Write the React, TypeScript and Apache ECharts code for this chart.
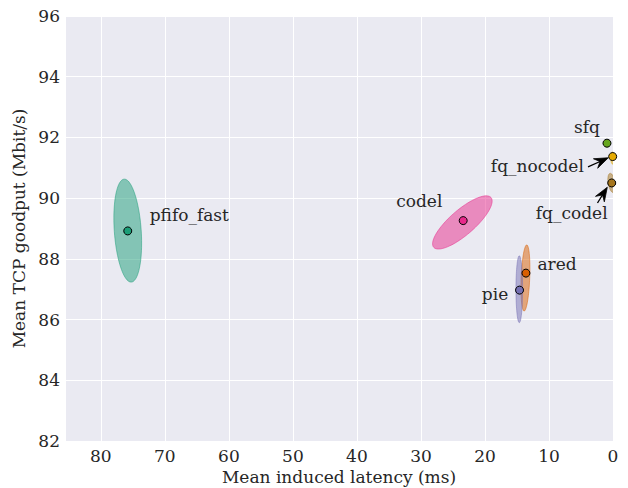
import React, { useEffect, useRef } from "react";
import * as echarts from "echarts";

// Per-qdisc summary (mean latency in ms, mean goodput in Mbit/s)
const names = ["pfifo_fast", "ared", "pie", "codel", "sfq", "fq_nocodel", "fq_codel"];
const colors = ["#1b9e77", "#d95f02", "#7570b3", "#e7298a", "#66a61e", "#e6ab02", "#a6761d"];
const latency = [75.8, 13.6, 14.6, 23.4, 0.94, 0.05, 0.2];
const goodput = [88.92, 87.53, 86.97, 89.26, 91.81, 91.37, 90.5];

// Spread ellipses: centre, semi-axes (ms, Mbit/s), rotation (deg)
const ellX = [75.8, 13.68, 14.64, 23.53, 0.94, 0.05, 0.2];
const ellY = [88.93, 87.37, 87.0, 89.2, 91.81, 91.32, 90.5];
const ellRx = [2.1, 0.67, 0.52, 5.93, 0.3, 0.3, 0.55];
const ellRy = [1.7, 1.09, 1.1, 0.41, 0.06, 0.2, 0.32];
const ellAngle = [4, -2.3, 0, 41, 0, 0, 10];

// Label anchors (left edge, baseline) in data units
const labelX = [72.37, 11.81, 20.49, 33.86, 6.09, 19.08, 12.06];
const labelY = [89.28, 87.66, 86.67, 89.74, 92.19, 90.9, 89.34];

// Annotation arrows: tail -> tip
const arrowNames = ["fq_nocodel", "fq_codel"];
const arrowTailX = [3.9, 2.42];
const arrowTailY = [91.03, 89.84];
const arrowTipX = [0.73, 0.89];
const arrowTipY = [91.33, 90.36];

const xTicks = [0, 10, 20, 30, 40, 50, 60, 70, 80];
const yTicks = [82, 84, 86, 88, 90, 92, 94, 96];

const FONT = "DejaVu Serif";
const FS = 17;
const TXT = "#262626";

export default function App() {
  const ref = useRef<HTMLDivElement>(null);
  useEffect(() => {
    if (!ref.current) return;
    const chart = echarts.init(ref.current, undefined, { renderer: "svg" });
    const option: any = {
      animation: false,
      grid: {
        left: 65,
        right: 15,
        top: 16,
        bottom: 47,
        show: true,
        backgroundColor: "#EAEAF2",
        borderWidth: 0,
        outerBoundsMode: "none",
      },
      xAxis: {
        type: "value",
        inverse: true,
        min: 0,
        max: 85.6,
        interval: 10,
        name: "Mean induced latency (ms)",
        nameLocation: "middle",
        nameGap: 27,
        nameTextStyle: { fontFamily: FONT, fontSize: FS, color: TXT },
        axisLine: { show: false },
        axisTick: { show: false },
        axisLabel: {
          fontFamily: FONT,
          fontSize: FS,
          color: TXT,
          margin: 6,
          formatter: (v: number) => (xTicks.includes(v) ? String(v) : ""),
        },
        splitLine: { show: true, lineStyle: { color: "#ffffff", width: 1 } },
      },
      yAxis: {
        type: "value",
        min: 82,
        max: 96,
        interval: 2,
        name: "Mean TCP goodput (Mbit/s)",
        nameLocation: "middle",
        nameGap: 34,
        nameTextStyle: { fontFamily: FONT, fontSize: FS, color: TXT },
        axisLine: { show: false },
        axisTick: { show: false },
        axisLabel: {
          fontFamily: FONT,
          fontSize: FS,
          color: TXT,
          margin: 5,
          formatter: (v: number) => (yTicks.includes(v) ? String(v) : ""),
        },
        splitLine: { show: true, lineStyle: { color: "#ffffff", width: 1 } },
      },
      series: [
        {
          type: "custom",
          clip: true,
          z: 2,
          data: names.map((_, i) => [ellX[i], ellY[i], ellRx[i], ellRy[i], ellAngle[i]]),
          renderItem: (params: any, api: any) => {
            const i = params.dataIndex;
            const c = api.coord([api.value(0), api.value(1)]);
            const s = api.size([api.value(2), api.value(3)]);
            const a = (api.value(4) * Math.PI) / 180;
            const pts: number[][] = [];
            const N = 90;
            for (let k = 0; k < N; k++) {
              const t = (k / N) * Math.PI * 2;
              const ex = s[0] * Math.cos(t);
              const ey = s[1] * Math.sin(t);
              const X = ex * Math.cos(a) - ey * Math.sin(a);
              const Y = ex * Math.sin(a) + ey * Math.cos(a);
              pts.push([c[0] + X, c[1] - Y]);
            }
            return {
              type: "polygon",
              shape: { points: pts },
              style: { fill: colors[i], opacity: 0.5, stroke: colors[i], lineWidth: 1 },
            };
          },
        },
        {
          type: "scatter",
          z: 3,
          symbolSize: 8,
          data: names.map((n, i) => ({
            name: n,
            value: [latency[i], goodput[i]],
            itemStyle: { color: colors[i], borderColor: "#000", borderWidth: 1, opacity: 1 },
          })),
        },
        {
          type: "custom",
          z: 4,
          data: names.map((_, i) => [labelX[i], labelY[i]]),
          renderItem: (params: any, api: any) => {
            const i = params.dataIndex;
            const c = api.coord([api.value(0), api.value(1)]);
            return {
              type: "text",
              x: c[0],
              y: c[1] - 0.3 * FS,
              style: {
                text: names[i],
                fill: TXT,
                fontFamily: FONT,
                fontSize: FS,
                align: "left",
                verticalAlign: "middle",
              },
            };
          },
        },
        {
          type: "custom",
          z: 5,
          data: arrowNames.map((_, i) => [arrowTailX[i], arrowTailY[i], arrowTipX[i], arrowTipY[i]]),
          renderItem: (params: any, api: any) => {
            const t = api.coord([api.value(0), api.value(1)]);
            const h = api.coord([api.value(2), api.value(3)]);
            const dx = h[0] - t[0];
            const dy = h[1] - t[1];
            const L = Math.sqrt(dx * dx + dy * dy);
            const ux = dx / L;
            const uy = dy / L;
            const px = -uy;
            const py = ux;
            const hl = 14;
            const hw = 5.2;
            const back = [h[0] - ux * hl, h[1] - uy * hl];
            const notch = [h[0] - ux * hl * 0.65, h[1] - uy * hl * 0.65];
            return {
              type: "group",
              children: [
                {
                  type: "line",
                  shape: { x1: t[0], y1: t[1], x2: notch[0], y2: notch[1] },
                  style: { stroke: "#000", lineWidth: 1.3 },
                },
                {
                  type: "polygon",
                  shape: {
                    points: [
                      [h[0], h[1]],
                      [back[0] + px * hw, back[1] + py * hw],
                      notch,
                      [back[0] - px * hw, back[1] - py * hw],
                    ],
                  },
                  style: { fill: "#000", stroke: "#000", lineWidth: 0.8 },
                },
              ],
            };
          },
        },
      ],
    };
    chart.setOption(option);
    return () => chart.dispose();
  }, []);
  return <div ref={ref} style={{ width: 628, height: 488, position: "absolute", left: 0, top: 0 }} />;
}
